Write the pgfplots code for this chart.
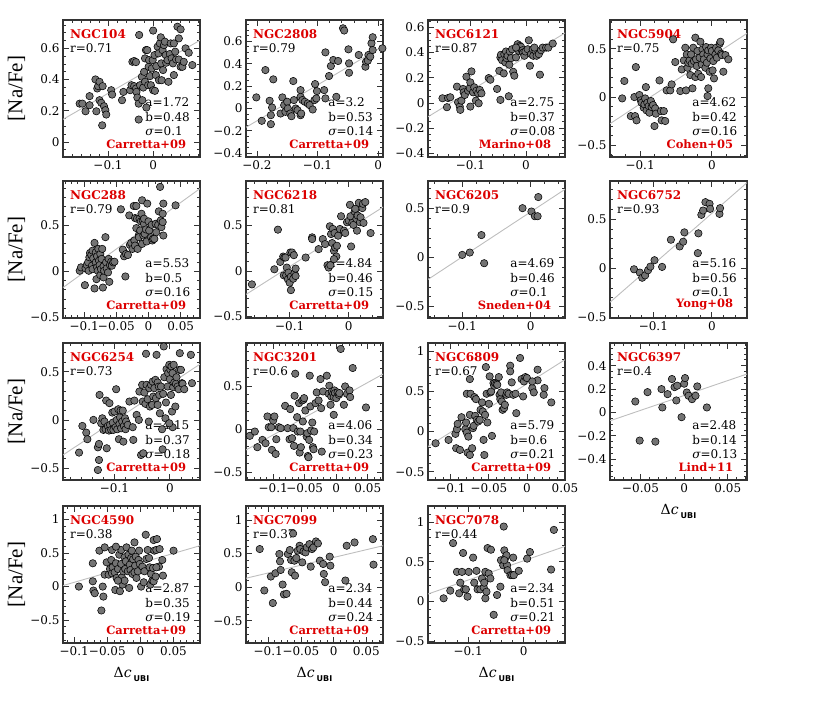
\documentclass[border=0pt]{standalone}
\usepackage{fontspec}
\setmainfont{DejaVu Serif}
\newfontfamily\labfont{Liberation Serif}
\newfontfamily\subfont{DejaVu Sans}
\usepackage{pgfplots}
\pgfplotsset{compat=1.18}

\definecolor{nred}{RGB}{220,0,0}
\definecolor{ptfill}{RGB}{115,115,115}
\definecolor{fitline}{RGB}{190,190,190}

\pgfplotsset{
  panel/.style={
    scale only axis, width=137pt, height=137pt, anchor=south west,
    clip mode=individual, scaled ticks=false,
    axis line style={line width=1.1pt, black!80},
    tick align=inside, xtick pos=both, ytick pos=both,
    major tick length=6pt, minor tick length=3pt,
    every tick/.append style={black!80, line width=0.8pt},
    tick label style={font=\fontsize{12}{12}\selectfont},
  },
  xA/.style={minor xtick={-0.3,-0.28,...,0.2}},
  xB/.style={minor xtick={-0.2,-0.19,...,0.1}},
  yA/.style={minor ytick={-0.6,-0.55,...,0.8}},
  yB/.style={minor ytick={-1,-0.9,...,1.3}},
  pts/.style={only marks, mark=*, mark size=3.7pt,
    mark options={fill=ptfill, draw=black, line width=0.55pt}},
  fit/.style={fitline, line width=0.9pt, no marks},
}

% name, r, a, b, sigma, reference
\newcommand{\annot}[6]{%
  \node[anchor=west, inner sep=0pt, text=nred, font=\bfseries\fontsize{12}{12}\selectfont] at (rel axis cs:0.05,0.898) {#1};
  \node[anchor=west, inner sep=0pt, font=\fontsize{12}{12}\selectfont] at (rel axis cs:0.05,0.796) {r=#2};
  \node[anchor=west, inner sep=0pt, font=\fontsize{12}{12}\selectfont] at (rel axis cs:0.6,0.40) {a=#3};
  \node[anchor=west, inner sep=0pt, font=\fontsize{12}{12}\selectfont] at (rel axis cs:0.6,0.294) {b=#4};
  \node[anchor=west, inner sep=0pt, font=\fontsize{12}{12}\selectfont] at (rel axis cs:0.6,0.19) {{\itshape σ}=#5};
  \node[anchor=east, inner sep=0pt, text=nred, font=\bfseries\fontsize{11.5}{12}\selectfont] at (rel axis cs:0.9,0.095) {#6};
}
\newcommand{\ylab}{\node[rotate=90, font=\labfont\fontsize{21}{21}\selectfont] at (rel axis cs:-0.34,0.5) {[Na/Fe]};}
\newcommand{\xlab}{\node[font=\fontsize{14}{14}\selectfont] at (rel axis cs:0.5,-0.226) {Δ\textit{c}\raisebox{-4pt}{\subfont\bfseries\fontsize{8}{8}\selectfont\hspace{2pt}UBI}};}

\begin{document}
\begin{tikzpicture}
\useasboundingbox (0,0) rectangle (817pt,704pt);

% ---------------- row 1 ----------------
\begin{axis}[panel, at={(63pt,547pt)}, xmin=-0.200, xmax=0.104, ymin=-0.096, ymax=0.782,
  xtick={-0.1,0}, xticklabels={−0.1,0}, xA,
  ytick={0,0.2,0.4,0.6}, yticklabels={0,0.2,0.4,0.6}, yA]
\addplot[fit] coordinates {(-0.200,0.145) (0.104,0.652)};
\annot{NGC104}{0.71}{1.72}{0.48}{0.1}{Carretta+09}
\ylab
\addplot[pts] coordinates {
(-0.163,0.246) (-0.157,0.246) (-0.150,0.197) (-0.141,0.294) (-0.141,0.236) (-0.128,0.401)
(-0.124,0.343) (-0.122,0.358) (-0.126,0.197) (-0.119,0.386) (-0.119,0.268) (-0.115,0.251)
(-0.113,0.107) (-0.112,0.358) (-0.109,0.229) (-0.106,0.204) (-0.104,0.176) (-0.093,0.332)
(-0.091,0.304) (-0.069,0.268) (-0.066,0.321) (-0.051,0.332) (-0.046,0.514) (-0.042,0.519)
(-0.038,0.512) (-0.048,0.364) (-0.042,0.358) (-0.038,0.343) (-0.037,0.321) (-0.035,0.285)
(-0.032,0.246) (-0.032,0.144) (-0.031,0.686) (-0.029,0.364) (-0.025,0.418) (-0.024,0.268)
(-0.022,0.349) (-0.020,0.450) (-0.018,0.536) (-0.018,0.386) (-0.016,0.589) (-0.015,0.221)
(-0.013,0.589) (-0.011,0.364) (-0.010,0.482) (-0.009,0.525) (-0.007,0.422) (-0.005,0.364)
(-0.003,0.471) (-0.001,0.525) (0.000,0.714) (0.000,0.332) (0.003,0.557) (0.004,0.328)
(0.006,0.429) (0.007,0.486) (0.010,0.611) (0.012,0.568) (0.013,0.396) (0.015,0.632)
(0.017,0.671) (0.018,0.504) (0.019,0.396) (0.021,0.589) (0.022,0.461) (0.024,0.621)
(0.026,0.643) (0.028,0.557) (0.029,0.508) (0.032,0.525) (0.034,0.386) (0.037,0.564)
(0.039,0.632) (0.041,0.536) (0.044,0.504) (0.046,0.429) (0.049,0.579) (0.051,0.529)
(0.054,0.739) (0.057,0.664) (0.057,0.529) (0.061,0.722) (0.061,0.482) (0.065,0.482)
(0.068,0.514) (0.072,0.600) (0.079,0.572) (0.087,0.493) (0.046,0.632)};
\end{axis}

\begin{axis}[panel, at={(246pt,547pt)}, xmin=-0.218, xmax=0.008, ymin=-0.433, ymax=0.79,
  xtick={-0.2,-0.1,0}, xticklabels={−0.2,−0.1,0}, xA,
  ytick={-0.4,-0.2,0,0.2,0.4,0.6}, yticklabels={−0.4,−0.2,0,0.2,0.4,0.6}, yA]
\addplot[fit] coordinates {(-0.218,-0.168) (0.008,0.556)};
\annot{NGC2808}{0.79}{3.2}{0.53}{0.14}{Carretta+09}
\addplot[pts] coordinates {
(-0.201,0.099) (-0.192,-0.110) (-0.186,0.343) (-0.179,0.069) (-0.177,-0.140) (-0.177,-0.060)
(-0.175,0.009) (-0.173,0.260) (-0.161,-0.045) (-0.158,0.099) (-0.155,0.030) (-0.153,-0.030)
(-0.150,0.060) (-0.149,0.000) (-0.145,-0.045) (-0.143,-0.069) (-0.140,0.245) (-0.139,0.075)
(-0.136,0.000) (-0.133,-0.015) (-0.128,0.164) (-0.128,0.104) (-0.128,-0.060) (-0.127,-0.045)
(-0.125,0.075) (-0.121,0.060) (-0.116,0.045) (-0.113,0.030) (-0.108,-0.009) (-0.105,0.075)
(-0.104,0.218) (-0.102,0.090) (-0.101,0.155) (-0.089,0.164) (-0.087,0.090) (-0.087,0.501)
(-0.081,0.290) (-0.078,0.379) (-0.074,0.433) (-0.069,0.104) (-0.066,0.424) (-0.058,0.716)
(-0.056,0.696) (-0.049,0.528) (-0.048,0.403) (-0.048,0.319) (-0.032,0.478) (-0.021,0.373)
(-0.020,0.418) (-0.017,0.427) (-0.016,0.478) (-0.013,0.463) (-0.011,0.582) (-0.009,0.636)
(-0.009,0.522) (0.007,0.537)};
\end{axis}

\begin{axis}[panel, at={(428pt,547pt)}, xmin=-0.176, xmax=0.070, ymin=-0.429, ymax=0.658,
  xtick={-0.1,0}, xticklabels={−0.1,0}, xA,
  ytick={-0.4,-0.2,0,0.2,0.4,0.6}, yticklabels={−0.4,−0.2,0,0.2,0.4,0.6}, yA]
\addplot[fit] coordinates {(-0.176,-0.110) (0.070,0.555)};
\annot{NGC6121}{0.87}{2.75}{0.37}{0.08}{Marino+08}
\addplot[pts] coordinates {
(-0.150,0.037) (-0.142,-0.034) (-0.140,0.039) (-0.136,0.045) (-0.124,0.129) (-0.122,0.005)
(-0.119,-0.029) (-0.118,-0.055) (-0.116,0.018) (-0.113,0.111) (-0.112,0.084) (-0.110,0.063)
(-0.107,0.208) (-0.104,0.097) (-0.101,0.118) (-0.100,-0.029) (-0.100,0.163) (-0.098,0.250)
(-0.095,0.084) (-0.093,0.124) (-0.090,0.018) (-0.089,0.097) (-0.086,0.076) (-0.085,-0.003)
(-0.083,0.103) (-0.080,0.076) (-0.067,0.197) (-0.064,0.184) (-0.052,0.111) (-0.048,0.255)
(-0.046,0.024) (-0.046,0.361) (-0.045,0.382) (-0.043,0.339) (-0.040,0.234) (-0.039,0.387)
(-0.037,0.321) (-0.036,0.408) (-0.035,0.355) (-0.033,0.374) (-0.031,0.053) (-0.030,0.303)
(-0.029,0.408) (-0.027,0.355) (-0.025,0.426) (-0.023,0.247) (-0.021,0.216) (-0.018,0.361)
(-0.015,0.466) (-0.013,0.413) (-0.011,0.453) (-0.009,0.445) (-0.007,0.413) (-0.006,0.418)
(-0.005,0.400) (-0.003,0.374) (-0.001,0.408) (0.003,0.426) (0.005,0.497) (0.007,0.295)
(0.009,0.387) (0.012,0.426) (0.013,0.374) (0.017,0.413) (0.019,0.374) (0.023,0.387)
(0.025,0.224) (0.027,0.418) (0.030,0.439) (0.036,0.439) (0.040,0.439) (0.048,0.471)
(0.015,0.439) (-0.018,0.439)};
\end{axis}

\begin{axis}[panel, at={(610pt,547pt)}, xmin=-0.142, xmax=0.049, ymin=-0.62, ymax=0.797,
  xtick={-0.1,0}, xticklabels={−0.1,0}, xA,
  ytick={-0.5,0,0.5}, yticklabels={−0.5,0,0.5}, yB]
\addplot[fit] coordinates {(-0.142,-0.276) (0.049,0.659)};
\annot{NGC5904}{0.75}{4.62}{0.42}{0.16}{Cohen+05}
\addplot[pts] coordinates {
(-0.125,-0.014) (-0.122,0.166) (-0.113,-0.197) (-0.107,-0.197) (-0.105,-0.241) (-0.106,0.310)
(-0.108,0.000) (-0.101,0.021) (-0.099,-0.034) (-0.098,-0.059) (-0.095,-0.110) (-0.094,-0.076)
(-0.093,-0.014) (-0.092,0.103) (-0.091,-0.138) (-0.090,-0.059) (-0.088,-0.093) (-0.087,-0.162)
(-0.085,-0.041) (-0.084,-0.103) (-0.082,-0.083) (-0.080,-0.300) (-0.079,-0.117) (-0.078,-0.172)
(-0.073,0.172) (-0.071,-0.145) (-0.070,-0.241) (-0.067,-0.145) (-0.065,-0.248) (-0.063,0.069)
(-0.058,0.069) (-0.056,0.131) (-0.054,0.597) (-0.051,0.362) (-0.044,0.062) (-0.042,0.286)
(-0.039,0.379) (-0.037,0.510) (-0.036,0.069) (-0.035,0.441) (-0.034,0.303) (-0.033,0.355)
(-0.031,0.379) (-0.030,0.228) (-0.029,0.441) (-0.028,0.345) (-0.027,0.090) (-0.026,0.510)
(-0.025,0.372) (-0.023,0.614) (-0.023,0.207) (-0.022,0.390) (-0.021,0.321) (-0.020,0.476)
(-0.019,0.241) (-0.017,0.407) (-0.016,0.572) (-0.015,0.207) (-0.014,0.338) (-0.013,0.493)
(-0.012,0.441) (-0.011,0.390) (-0.009,0.303) (-0.008,0.517) (-0.007,0.355) (-0.006,0.441)
(-0.005,0.483) (-0.003,0.262) (-0.002,0.400) (-0.001,0.510) (0.000,0.476) (0.001,0.276)
(0.002,0.372) (0.003,0.193) (0.005,0.441) (0.006,0.510) (0.007,0.407) (0.009,0.483)
(0.011,0.552) (0.013,0.448) (0.014,0.434) (0.016,0.262) (0.019,0.434) (0.023,0.390)
(-0.005,0.090) (-0.006,0.010) (0.012,0.572)};
\end{axis}

% ---------------- row 2 ----------------
\begin{axis}[panel, at={(63pt,386pt)}, xmin=-0.133, xmax=0.080, ymin=-0.505, ymax=0.98,
  xtick={-0.1,-0.05,0,0.05}, xticklabels={−0.1,−0.05,0,0.05}, xB,
  ytick={-0.5,0,0.5}, yticklabels={−0.5,0,0.5}, yB]
\addplot[fit] coordinates {(-0.133,-0.175) (0.080,0.898)};
\annot{NGC288}{0.79}{5.53}{0.5}{0.16}{Carretta+09}
\ylab
\addplot[pts] coordinates {
(-0.107,0.007) (-0.105,0.044) (-0.099,-0.149) (-0.098,0.033) (-0.096,0.069) (-0.094,0.098)
(-0.093,0.007) (-0.092,0.153) (-0.091,0.200) (-0.089,0.178) (-0.088,0.062) (-0.087,0.225)
(-0.087,0.025) (-0.086,0.142) (-0.084,-0.185) (-0.084,0.309) (-0.082,0.207) (-0.082,0.098)
(-0.081,-0.084) (-0.080,0.164) (-0.080,0.044) (-0.079,0.007) (-0.078,0.244) (-0.077,0.116)
(-0.076,0.069) (-0.075,0.189) (-0.075,-0.040) (-0.074,0.025) (-0.073,0.135) (-0.072,0.244)
(-0.071,-0.175) (-0.070,0.055) (-0.070,-0.065) (-0.069,0.007) (-0.067,0.371) (-0.066,0.098)
(-0.065,0.033) (-0.063,-0.011) (-0.062,0.135) (-0.061,-0.113) (-0.060,0.069) (-0.058,0.105)
(-0.057,0.062) (-0.055,0.098) (-0.053,0.105) (-0.043,0.673) (-0.040,0.236) (-0.038,0.164)
(-0.036,-0.055) (-0.035,0.189) (-0.032,0.178) (-0.030,0.607) (-0.029,0.287) (-0.027,0.309)
(-0.025,0.244) (-0.023,0.709) (-0.022,0.335) (-0.021,0.578) (-0.021,0.280) (-0.019,0.709)
(-0.019,0.469) (-0.018,0.571) (-0.017,0.244) (-0.015,0.396) (-0.015,0.371) (-0.014,0.571)
(-0.013,0.444) (-0.012,0.542) (-0.011,0.625) (-0.010,0.298) (-0.010,0.771) (-0.009,0.553)
(-0.008,0.389) (-0.007,0.516) (-0.007,0.571) (-0.006,0.407) (-0.004,0.455) (-0.003,0.324)
(-0.002,0.735) (0.000,0.542) (0.001,0.444) (0.004,0.371) (0.005,0.505) (0.006,0.335)
(0.007,0.353) (0.009,0.353) (0.011,0.516) (0.012,0.425) (0.015,0.505) (0.016,0.651)
(0.018,0.916) (0.019,0.553) (0.020,0.480) (0.022,0.625) (0.022,0.535) (0.023,0.735)
(0.023,0.389) (0.042,0.716)};
\end{axis}

\begin{axis}[panel, at={(246pt,386pt)}, xmin=-0.174, xmax=0.058, ymin=-0.515, ymax=0.985,
  xtick={-0.1,0}, xticklabels={−0.1,0}, xA,
  ytick={-0.5,0,0.5}, yticklabels={−0.5,0,0.5}, yB]
\addplot[fit] coordinates {(-0.174,-0.257) (0.058,0.699)};
\annot{NGC6218}{0.81}{4.84}{0.46}{0.15}{Carretta+09}
\addplot[pts] coordinates {
(-0.164,-0.147) (-0.126,0.018) (-0.120,0.452) (-0.116,0.099) (-0.111,0.158) (-0.109,0.147)
(-0.110,-0.048) (-0.107,0.147) (-0.106,-0.048) (-0.105,0.037) (-0.103,-0.092) (-0.102,-0.018)
(-0.100,-0.129) (-0.099,0.202) (-0.098,-0.210) (-0.098,-0.063) (-0.096,0.202) (-0.094,-0.085)
(-0.093,0.173) (-0.092,-0.026) (-0.090,-0.055) (-0.090,0.026) (-0.073,0.147) (-0.062,0.368)
(-0.062,0.349) (-0.051,0.239) (-0.044,0.349) (-0.040,0.294) (-0.036,0.063) (-0.034,0.037)
(-0.032,0.489) (-0.031,0.063) (-0.030,0.404) (-0.028,0.305) (-0.027,0.460) (-0.025,0.221)
(-0.024,0.415) (-0.023,0.257) (-0.021,0.158) (-0.020,0.276) (-0.018,0.386) (-0.015,0.460)
(-0.013,0.599) (-0.008,0.441) (-0.006,0.415) (-0.003,0.533) (0.000,0.551) (0.002,0.724)
(0.003,0.599) (0.004,0.268) (0.006,0.526) (0.008,0.504) (0.010,0.651) (0.013,0.570)
(0.014,0.441) (0.015,0.607) (0.017,0.746) (0.019,0.533) (0.020,0.588) (0.023,0.688)
(0.024,0.735) (0.025,0.526) (0.028,0.754) (0.037,0.415) (0.011,0.680) (-0.025,0.129)};
\end{axis}

\begin{axis}[panel, at={(428pt,386pt)}, xmin=-0.150, xmax=0.050, ymin=-0.616, ymax=0.78,
  xtick={-0.1,0}, xticklabels={−0.1,0}, xA,
  ytick={-0.5,0,0.5}, yticklabels={−0.5,0,0.5}, yB]
\addplot[fit] coordinates {(-0.150,-0.223) (0.050,0.695)};
\annot{NGC6205}{0.9}{4.69}{0.46}{0.1}{Sneden+04}
\addplot[pts] coordinates {
(-0.100,0.027) (-0.089,0.051) (-0.072,0.229) (-0.068,-0.058) (-0.012,0.503) (0.001,0.469)
(0.006,0.421) (0.010,0.421) (0.011,0.616)};
\end{axis}

\begin{axis}[panel, at={(610pt,386pt)}, xmin=-0.174, xmax=0.060, ymin=-0.505, ymax=0.887,
  xtick={-0.1,0}, xticklabels={−0.1,0}, xA,
  ytick={-0.5,0,0.5}, yticklabels={−0.5,0,0.5}, yB]
\addplot[fit] coordinates {(-0.174,-0.345) (0.060,0.870)};
\annot{NGC6752}{0.93}{5.16}{0.56}{0.1}{Yong+08}
\addplot[pts] coordinates {
(-0.133,-0.010) (-0.123,-0.044) (-0.119,-0.096) (-0.114,-0.072) (-0.109,-0.020) (-0.105,0.017)
(-0.098,0.082) (-0.085,0.014) (-0.070,0.290) (-0.055,0.222) (-0.049,0.270) (-0.047,0.365)
(-0.024,0.154) (-0.023,0.355) (-0.018,0.543) (-0.015,0.587) (-0.011,0.672) (-0.004,0.655)
(-0.003,0.604) (0.013,0.553) (0.014,0.611)};
\end{axis}

% ---------------- row 3 ----------------
\begin{axis}[panel, at={(63pt,224pt)}, xmin=-0.193, xmax=0.0545, ymin=-0.625, ymax=0.80,
  xtick={-0.1,0}, xticklabels={−0.1,0}, xA,
  ytick={-0.5,0,0.5}, yticklabels={−0.5,0,0.5}, yB]
\addplot[fit] coordinates {(-0.193,-0.365) (0.0545,0.580)};
\annot{NGC6254}{0.73}{4.15}{0.37}{0.18}{Carretta+09}
\ylab
\addplot[pts] coordinates {
(-0.164,-0.340) (-0.158,-0.063) (-0.151,-0.132) (-0.149,-0.201) (-0.138,0.000) (-0.130,-0.285)
(-0.128,-0.250) (-0.128,-0.417) (-0.130,-0.521) (-0.127,0.260) (-0.124,-0.035) (-0.122,0.017)
(-0.120,-0.104) (-0.118,-0.017) (-0.116,-0.097) (-0.115,0.201) (-0.114,-0.295) (-0.112,-0.063)
(-0.110,-0.111) (-0.109,0.174) (-0.108,-0.052) (-0.106,-0.104) (-0.104,0.076) (-0.103,-0.028)
(-0.102,-0.104) (-0.100,0.087) (-0.098,-0.076) (-0.097,0.319) (-0.096,0.000) (-0.095,-0.097)
(-0.093,0.111) (-0.092,-0.201) (-0.091,-0.042) (-0.090,0.028) (-0.089,0.097) (-0.088,-0.087)
(-0.086,-0.017) (-0.085,0.097) (-0.084,-0.226) (-0.083,-0.063) (-0.081,0.017) (-0.080,-0.097)
(-0.079,-0.017) (-0.076,-0.052) (-0.073,0.191) (-0.067,-0.076) (-0.066,-0.208) (-0.064,0.201)
(-0.060,0.052) (-0.056,0.000) (-0.055,0.295) (-0.052,-0.365) (-0.050,0.365) (-0.049,0.191)
(-0.048,-0.347) (-0.046,0.285) (-0.044,0.167) (-0.043,0.688) (-0.042,0.365) (-0.040,0.215)
(-0.038,-0.017) (-0.037,0.330) (-0.036,0.139) (-0.034,0.365) (-0.032,0.156) (-0.031,0.399)
(-0.030,0.243) (-0.028,0.330) (-0.026,0.417) (-0.025,0.226) (-0.024,0.677) (-0.022,0.156)
(-0.022,0.389) (-0.020,0.347) (-0.019,0.260) (-0.018,0.069) (-0.016,0.347) (-0.014,-0.097)
(-0.013,-0.306) (-0.012,0.271) (-0.011,0.764) (-0.010,0.444) (-0.008,0.017) (-0.007,0.181)
(-0.006,0.528) (-0.004,0.347) (-0.003,0.486) (-0.001,0.573) (0.000,0.424) (0.001,0.521)
(0.002,0.260) (0.003,0.556) (0.004,0.087) (0.005,0.486) (0.006,0.340) (0.007,0.573)
(0.008,0.389) (0.010,0.139) (0.011,0.375) (0.012,0.444) (0.014,0.347) (0.016,0.319)
(0.017,0.521) (0.018,0.694) (0.020,0.521) (0.022,0.382) (0.023,0.375) (0.026,0.319)
(0.038,0.677) (0.040,0.382) (0.005,-0.076) (-0.001,-0.035)};
\end{axis}

\begin{axis}[panel, at={(246pt,224pt)}, xmin=-0.143, xmax=0.074, ymin=-0.587, ymax=0.996,
  xtick={-0.1,-0.05,0,0.05}, xticklabels={−0.1,−0.05,0,0.05}, xB,
  ytick={-0.5,0,0.5}, yticklabels={−0.5,0,0.5}, yB]
\addplot[fit] coordinates {(-0.143,-0.240) (0.074,0.637)};
\annot{NGC3201}{0.6}{4.06}{0.34}{0.23}{Carretta+09}
\addplot[pts] coordinates {
(-0.137,-0.077) (-0.129,-0.027) (-0.125,-0.208) (-0.117,-0.124) (-0.112,-0.162) (-0.109,0.147)
(-0.107,0.023) (-0.103,0.023) (-0.102,-0.239) (-0.100,0.100) (-0.098,0.147) (-0.096,-0.286)
(-0.095,-0.116) (-0.091,0.023) (-0.088,0.012) (-0.081,0.270) (-0.077,0.012) (-0.074,-0.116)
(-0.073,0.232) (-0.070,-0.104) (-0.068,0.012) (-0.067,-0.193) (-0.066,0.386) (-0.065,0.641)
(-0.062,0.139) (-0.061,-0.027) (-0.059,0.301) (-0.058,-0.270) (-0.057,-0.027) (-0.056,-0.208)
(-0.054,0.332) (-0.053,0.089) (-0.052,0.340) (-0.051,0.359) (-0.049,0.216) (-0.047,-0.085)
(-0.046,-0.046) (-0.045,-0.309) (-0.044,-0.324) (-0.043,-0.124) (-0.042,0.618) (-0.041,0.263)
(-0.040,-0.015) (-0.038,0.077) (-0.037,-0.208) (-0.036,-0.232) (-0.035,-0.027) (-0.033,0.301)
(-0.031,0.425) (-0.028,0.332) (-0.025,0.579) (-0.024,0.243) (-0.023,-0.259) (-0.021,0.436)
(-0.015,0.618) (-0.012,0.409) (-0.011,0.502) (-0.009,0.282) (-0.008,0.378) (-0.007,0.436)
(-0.005,0.409) (-0.004,0.371) (-0.003,0.448) (-0.002,0.417) (0.000,0.359) (0.002,0.425)
(0.004,0.398) (0.005,0.417) (0.007,0.927) (0.012,0.282) (0.014,0.494) (0.017,0.409)
(0.021,0.448) (0.022,0.371) (0.026,0.707) (0.047,0.251) (-0.004,0.166)};
\end{axis}

\begin{axis}[panel, at={(428pt,224pt)}, xmin=-0.130, xmax=0.050, ymin=-0.604, ymax=1.104,
  xtick={-0.1,-0.05,0,0.05}, xticklabels={−0.1,−0.05,0,0.05}, xB,
  ytick={-0.5,0,0.5,1}, yticklabels={−0.5,0,0.5,1}, yB]
\addplot[fit] coordinates {(-0.130,-0.1875) (0.050,0.896)};
\annot{NGC6809}{0.67}{5.79}{0.6}{0.21}{Carretta+09}
\addplot[pts] coordinates {
(-0.120,-0.146) (-0.103,-0.104) (-0.094,-0.029) (-0.093,-0.208) (-0.092,0.029) (-0.091,0.096)
(-0.088,-0.229) (-0.086,0.179) (-0.081,0.029) (-0.080,0.113) (-0.079,0.471) (-0.079,-0.013)
(-0.078,-0.263) (-0.077,-0.063) (-0.075,0.654) (-0.075,0.208) (-0.075,-0.292) (-0.074,0.471)
(-0.072,-0.208) (-0.071,0.042) (-0.070,0.071) (-0.069,0.429) (-0.068,0.196) (-0.067,0.404)
(-0.066,0.146) (-0.064,0.125) (-0.062,0.146) (-0.061,0.271) (-0.059,0.363) (-0.058,0.250)
(-0.057,-0.104) (-0.056,-0.292) (-0.055,0.208) (-0.054,0.804) (-0.053,0.471) (-0.052,0.113)
(-0.050,0.346) (-0.049,0.688) (-0.048,0.488) (-0.047,0.500) (-0.046,-0.054) (-0.044,0.604)
(-0.043,0.571) (-0.042,0.604) (-0.040,0.596) (-0.039,0.583) (-0.037,0.679) (-0.036,0.458)
(-0.035,0.404) (-0.034,0.488) (-0.033,0.375) (-0.032,0.271) (-0.030,0.292) (-0.029,0.333)
(-0.027,0.458) (-0.026,0.488) (-0.024,0.471) (-0.022,0.821) (-0.022,0.750) (-0.020,0.613)
(-0.018,0.458) (-0.015,0.471) (-0.014,0.229) (-0.009,0.917) (-0.007,0.654) (-0.005,0.438)
(-0.004,0.625) (-0.002,0.679) (0.000,0.667) (0.007,0.542) (0.009,0.488) (0.014,0.771)
(0.014,0.638) (0.023,0.542) (0.022,0.458) (0.032,0.363) (0.007,0.625)};
\end{axis}

\begin{axis}[panel, at={(610pt,224pt)}, xmin=-0.085, xmax=0.072, ymin=-0.577, ymax=0.594,
  xtick={-0.05,0,0.05}, xticklabels={−0.05,0,0.05}, xB,
  ytick={-0.4,-0.2,0,0.2,0.4}, yticklabels={−0.4,−0.2,0,0.2,0.4}, yA]
\addplot[fit] coordinates {(-0.085,-0.071) (0.072,0.329)};
\annot{NGC6397}{0.4}{2.48}{0.14}{0.13}{Lind+11}
\xlab
\addplot[pts] coordinates {
(-0.056,0.094) (-0.051,-0.240) (-0.042,0.174) (-0.033,-0.249) (-0.026,0.200) (-0.025,0.043)
(-0.019,0.157) (-0.014,0.286) (-0.011,0.217) (-0.009,0.103) (-0.008,0.229) (-0.003,-0.040)
(0.000,0.246) (0.001,0.294) (0.003,0.171) (0.005,0.143) (0.009,0.114) (0.013,0.143)
(0.015,0.223) (0.026,0.043)};
\end{axis}

% ---------------- row 4 ----------------
\begin{axis}[panel, at={(63pt,61pt)}, xmin=-0.117, xmax=0.090, ymin=-0.84, ymax=1.20,
  xtick={-0.1,-0.05,0,0.05}, xticklabels={−0.1,−0.05,0,0.05}, xB,
  ytick={-0.5,0,0.5,1}, yticklabels={−0.5,0,0.5,1}, yB]
\addplot[fit] coordinates {(-0.117,0.015) (0.090,0.609)};
\annot{NGC4590}{0.38}{2.87}{0.35}{0.19}{Carretta+09}
\ylab
\xlab
\addplot[pts] coordinates {
(-0.093,0.000) (-0.072,0.079) (-0.072,0.347) (-0.071,-0.059) (-0.069,-0.099) (-0.062,0.535)
(-0.059,-0.356) (-0.057,0.000) (-0.056,-0.149) (-0.054,0.584) (-0.054,0.178) (-0.051,0.361)
(-0.048,0.178) (-0.046,0.262) (-0.044,0.396) (-0.043,0.545) (-0.043,0.198) (-0.042,0.287)
(-0.039,0.213) (-0.038,-0.050) (-0.037,0.347) (-0.036,0.129) (-0.034,0.262) (-0.032,0.475)
(-0.031,-0.069) (-0.029,0.545) (-0.029,0.337) (-0.028,0.139) (-0.027,0.030) (-0.026,0.228)
(-0.024,0.436) (-0.024,0.089) (-0.023,0.262) (-0.022,0.376) (-0.021,0.584) (-0.019,0.228)
(-0.018,0.475) (-0.017,-0.020) (-0.016,0.327) (-0.015,0.248) (-0.014,0.426) (-0.013,0.535)
(-0.012,0.188) (-0.011,0.406) (-0.009,0.658) (-0.009,0.213) (-0.008,0.312) (-0.007,0.446)
(-0.006,0.129) (-0.004,0.228) (-0.003,0.396) (-0.002,0.535) (-0.001,0.337) (0.001,0.000)
(0.003,0.297) (0.005,0.064) (0.006,0.228) (0.008,0.772) (0.009,0.411) (0.011,0.545)
(0.013,0.426) (0.014,0.287) (0.015,0.030) (0.016,0.188) (0.018,0.089) (0.019,0.277)
(0.020,0.079) (0.020,0.693) (0.021,0.535) (0.023,0.149) (0.024,0.545) (0.025,0.708)
(0.028,0.297) (0.029,0.559) (0.033,0.396) (0.034,0.163) (0.050,0.535) (0.024,0.287)
(-0.037,0.594) (-0.034,0.089)};
\end{axis}

\begin{axis}[panel, at={(246pt,61pt)}, xmin=-0.134, xmax=0.0755, ymin=-0.83, ymax=1.207,
  xtick={-0.1,-0.05,0,0.05}, xticklabels={−0.1,−0.05,0,0.05}, xB,
  ytick={-0.5,0,0.5,1}, yticklabels={−0.5,0,0.5,1}, yB]
\addplot[fit] coordinates {(-0.134,0.133) (0.0755,0.616)};
\annot{NGC7099}{0.37}{2.34}{0.44}{0.24}{Carretta+09}
\xlab
\addplot[pts] coordinates {
(-0.113,0.567) (-0.106,-0.049) (-0.096,0.158) (-0.093,-0.236) (-0.089,0.207) (-0.083,0.493)
(-0.082,0.384) (-0.081,0.256) (-0.078,0.039) (-0.076,-0.108) (-0.072,-0.099) (-0.070,0.493)
(-0.067,0.552) (-0.065,0.404) (-0.064,0.222) (-0.062,0.798) (-0.060,0.394) (-0.059,0.172)
(-0.057,0.433) (-0.055,0.542) (-0.052,0.616) (-0.051,0.567) (-0.048,0.369) (-0.046,0.532)
(-0.043,0.517) (-0.041,0.591) (-0.037,0.640) (-0.035,0.305) (-0.033,0.567) (-0.031,0.591)
(-0.027,0.680) (-0.024,0.650) (-0.021,0.394) (-0.016,0.345) (-0.015,0.197) (-0.013,0.074)
(-0.006,0.453) (-0.005,0.320) (0.018,0.099) (0.020,0.616) (0.032,0.665) (0.060,0.714)
(0.061,0.335)};
\end{axis}

\begin{axis}[panel, at={(428pt,61pt)}, xmin=-0.172, xmax=0.074, ymin=-0.52, ymax=1.20,
  xtick={-0.1,0}, xticklabels={−0.1,0}, xA,
  ytick={-0.5,0,0.5,1}, yticklabels={−0.5,0,0.5,1}, yB]
\addplot[fit] coordinates {(-0.172,0.095) (0.074,0.693)};
\annot{NGC7078}{0.44}{2.34}{0.51}{0.21}{Carretta+09}
\xlab
\addplot[pts] coordinates {
(-0.144,0.041) (-0.132,0.137) (-0.127,0.734) (-0.120,0.373) (-0.116,0.104) (-0.114,0.237)
(-0.111,0.373) (-0.109,0.610) (-0.107,0.154) (-0.104,0.154) (-0.101,0.062) (-0.099,0.373)
(-0.091,0.552) (-0.089,0.237) (-0.085,0.386) (-0.083,0.154) (-0.078,0.154) (-0.075,0.290)
(-0.072,0.178) (-0.071,0.237) (-0.069,0.373) (-0.069,0.041) (-0.067,0.124) (-0.065,0.672)
(-0.063,0.353) (-0.060,0.290) (-0.059,0.651) (-0.054,-0.166) (-0.048,0.083) (-0.042,0.187)
(-0.041,0.519) (-0.036,0.942) (-0.037,0.456) (-0.035,0.643) (-0.033,0.552) (-0.031,0.581)
(-0.030,0.456) (-0.029,0.394) (-0.024,0.332) (-0.021,0.332) (-0.019,0.552) (-0.018,0.332)
(-0.009,0.386) (0.006,0.539) (0.011,0.622) (0.049,0.402) (0.054,0.900) (-0.035,0.519)};
\end{axis}

\end{tikzpicture}
\end{document}
